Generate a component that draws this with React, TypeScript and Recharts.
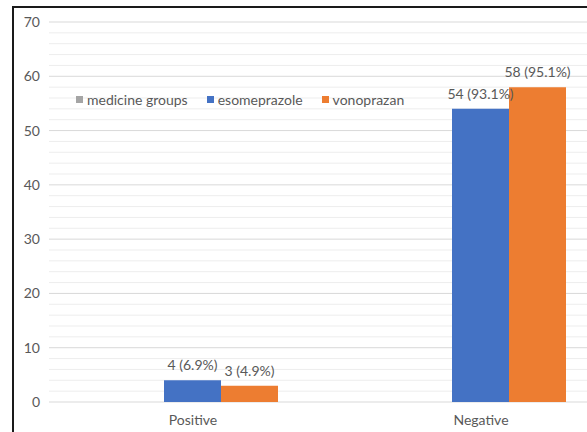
import { BarChart, Bar, XAxis, YAxis, CartesianGrid, Legend, LabelList } from 'recharts';

const categories = ['Positive', 'Negative'];
const medicineGroups = [null, null];
const esomeprazole = [4, 54];
const esomeprazolePct = ['6.9%', '93.1%'];
const vonoprazan = [3, 58];
const vonoprazanPct = ['4.9%', '95.1%'];
const yTicks = [0, 10, 20, 30, 40, 50, 60, 70];
const minorTicks = [2, 4, 6, 8, 12, 14, 16, 18, 22, 24, 26, 28, 32, 34, 36, 38, 42, 44, 46, 48, 52, 54, 56, 58, 62, 64, 66, 68];
const yMax = 70;

const series = [
  { key: 'medicine', name: 'medicine groups', color: '#a5a5a5' },
  { key: 'eso', name: 'esomeprazole', color: '#4472c4' },
  { key: 'vono', name: 'vonoprazan', color: '#ed7d31' },
];

const data = categories.map((name, i) => ({
  name,
  medicine: medicineGroups[i],
  eso: esomeprazole[i],
  esoLabel: `${esomeprazole[i]} (${esomeprazolePct[i]})`,
  vono: vonoprazan[i],
  vonoLabel: `${vonoprazan[i]} (${vonoprazanPct[i]})`,
}));

const font = 'Lato, "Open Sans", sans-serif';
const textColor = '#595959';

const renderLegend = () => (
  <div style={{ display: 'flex', fontFamily: font, fontSize: 14, color: textColor, whiteSpace: 'nowrap' }}>
    {series.map((s) => (
      <span key={s.key} style={{ display: 'flex', alignItems: 'center', marginRight: 19 }}>
        <span style={{ width: 7, height: 7, background: s.color, marginRight: 4, display: 'inline-block' }} />
        {s.name}
      </span>
    ))}
  </div>
);

const renderBarLabel = (props: any) => {
  const { x, y, width, value } = props;
  return (
    <text x={x + width / 2} y={y - 10} textAnchor="middle" fill={textColor} fontSize={14} fontFamily={font}>
      {value}
    </text>
  );
};

// minor gridlines every 2 units
const minorCoords = ({ yAxis, offset }: any) =>
  minorTicks.map((v) =>
    yAxis && typeof yAxis.scale === 'function'
      ? yAxis.scale(v)
      : offset.top + offset.height * (1 - v / yMax)
  );

export default function App() {
  return (
    <div style={{ position: 'absolute', left: 0, top: 0, width: 587, height: 432, overflow: 'hidden', background: '#fff' }}>
      <BarChart
        width={630}
        height={432}
        data={data}
        margin={{ top: 22, right: 5, bottom: 0, left: 0 }}
        barCategoryGap={58}
        barGap={0}
      >
        <CartesianGrid vertical={false} stroke="#ededed" horizontalCoordinatesGenerator={minorCoords} />
        <CartesianGrid vertical={false} stroke="#d9d9d9" />
        <XAxis
          dataKey="name"
          axisLine={false}
          tickLine={false}
          height={30}
          tickSize={0}
          tickMargin={13}
          tick={{ fill: textColor, fontSize: 14, fontFamily: font }}
        />
        <YAxis
          domain={[0, yMax]}
          ticks={yTicks}
          axisLine={false}
          tickLine={false}
          width={49}
          tickSize={0}
          tickMargin={9}
          tick={{ fill: textColor, fontSize: 14, fontFamily: font }}
        />
        <Legend
          verticalAlign="middle"
          content={renderLegend}
          wrapperStyle={{ position: 'absolute', left: 76, top: 91, width: 'auto' }}
        />
        {series.map((s) => (
          <Bar key={s.key} dataKey={s.key} name={s.name} fill={s.color} isAnimationActive={false}>
            {s.key !== 'medicine' && <LabelList dataKey={`${s.key}Label`} content={renderBarLabel} />}
          </Bar>
        ))}
      </BarChart>
      <div style={{ position: 'absolute', left: 12, top: 6, width: 600, height: 440, borderLeft: '2px solid #1a1a1a', borderTop: '2px solid #1a1a1a' }} />
    </div>
  );
}
